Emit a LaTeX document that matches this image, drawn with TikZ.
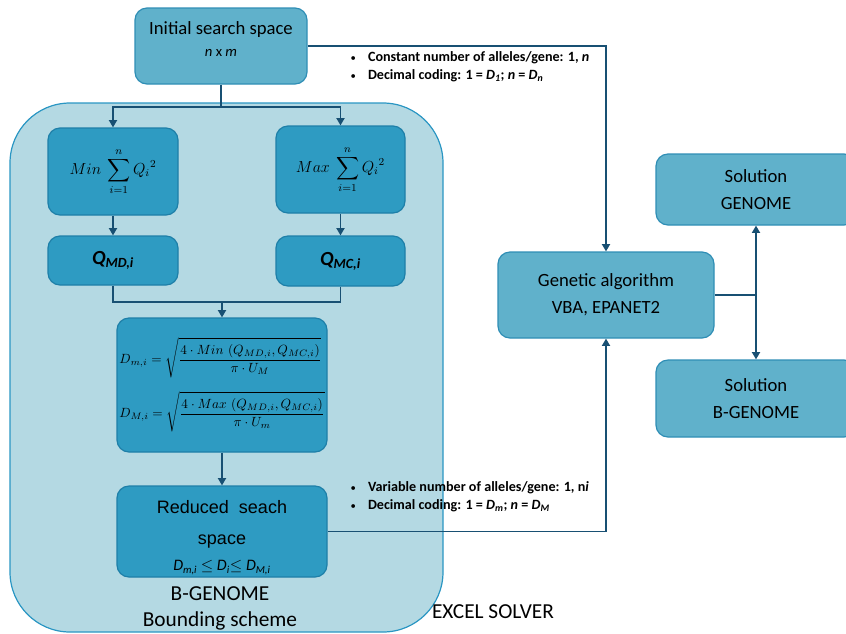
\documentclass[tikz,border=0pt]{standalone}
\usepackage{amsmath}
\usepackage{fontspec}
\setmainfont{Carlito}
\newfontfamily\arialfont{Liberation Sans}
\definecolor{gashell}{RGB}{180,217,227}
\definecolor{gashellline}{RGB}{42,150,195}
\definecolor{gadark}{RGB}{46,155,194}
\definecolor{gadarkline}{RGB}{30,127,168}
\definecolor{galight}{RGB}{96,177,203}
\definecolor{galightline}{RGB}{47,142,181}
\definecolor{gawire}{RGB}{24,80,115}
\usetikzlibrary{arrows.meta,positioning,calc}
\tikzset{
  lbox/.style={draw=galightline, line width=0.9pt, fill=galight, rounded corners=9pt,
               inner sep=0pt, align=center, font=\fontsize{14}{20}\selectfont},
  dbox/.style={draw=gadarkline, line width=0.9pt, fill=gadark, rounded corners=9pt,
               inner sep=0pt, align=center},
  wire/.style={draw=gawire, line width=1.3pt},
  warrow/.style={wire, -{Triangle[length=5.5pt,width=6pt]}},
  bnote/.style={font=\fontsize{10.6}{13.5}\selectfont\bfseries, align=left, anchor=west},
}
\newcommand\notebullet{{\normalfont\fontsize{8}{8}\selectfont\textbullet}\hspace{9pt}}

\begin{document}
\begin{tikzpicture}[x=0.75pt, y=-0.75pt]
\clip (0,0) rectangle (846,633);
% Container: B-GENOME bounding scheme
\node[draw=gashellline, line width=0.9pt, fill=gashell, rounded corners=45pt,
      minimum width=324.75pt, minimum height=396.75pt, inner sep=0pt] (shell) at (226.5,367.5) {};
\node[font=\fontsize{16}{19.5}\selectfont, align=center] (shelltxt) at (220,608) {B-GENOME\\Bounding scheme};
\node[font=\fontsize{16}{19}\selectfont] (excel) at (493,612) {EXCEL SOLVER};

% Top: initial search space
\node[lbox, minimum width=129pt, minimum height=57pt] (init) at (221,46) {};
\node[align=center, font=\fontsize{14}{17}\selectfont] (inittxt) at (221,39)
  {Initial search space\\{\fontsize{11}{13}\selectfont\itshape n\/\upshape\ x \itshape m}};

% Bounds of the flows
\node[dbox, minimum width=97.5pt, minimum height=65.25pt, font=\fontsize{11.5}{13}\selectfont] (minq) at (113,171.5)
  {$\displaystyle Min\ \sum_{i=1}^{n} {Q_i}^{2}$};
\node[dbox, minimum width=96.75pt, minimum height=65.25pt, font=\fontsize{11.5}{13}\selectfont] (maxq) at (340.5,169.5)
  {$\displaystyle Max\ \sum_{i=1}^{n} {Q_i}^{2}$};
\node[dbox, minimum width=97.5pt, minimum height=36.75pt, font=\fontsize{15}{18}\selectfont\bfseries\itshape] (qmd) at (113,260.5)
  {Q\textsubscript{MD,i}};
\node[dbox, minimum width=96.75pt, minimum height=37.5pt, font=\fontsize{15}{18}\selectfont\bfseries\itshape] (qmc) at (340.5,261)
  {Q\textsubscript{MC,i}};

% Diameters and reduced space
\node[dbox, minimum width=157.5pt, minimum height=100.5pt, align=left, font=\fontsize{9.7}{12}\selectfont] (diam) at (222,385)
  {$\displaystyle D_{m,i}=\sqrt{\frac{4\cdot Min\,\left(Q_{MD,i},Q_{MC,i}\right)}{\pi\cdot U_M}}$\\[9pt]
   $\displaystyle D_{M,i}=\sqrt{\frac{4\cdot Max\,\left(Q_{MD,i},Q_{MC,i}\right)}{\pi\cdot U_m}}$};
\node[dbox, minimum width=157.5pt, minimum height=68.25pt, font=\arialfont\fontsize{13.5}{23}\selectfont] (reduced) at (222,531.5)
  {\rule{0pt}{19pt}Reduced~ seach\\space\\[-3pt]
   {\rmfamily\itshape\fontsize{12}{14}\selectfont D\textsubscript{m,i} $\le$ D\textsubscript{i}$\le$ D\textsubscript{M,i}}};

% Right: genetic algorithm and solutions
\node[lbox, minimum width=162pt, minimum height=64.5pt] (ga) at (606,295) {Genetic algorithm\\VBA, EPANET2};
\node[lbox, minimum width=150pt, minimum height=53.25pt] (solg) at (756,189.5) {Solution\\GENOME};
\node[lbox, minimum width=150pt, minimum height=57.75pt] (solb) at (756,398.5) {Solution\\B-GENOME};

% Coding notes
\node[bnote] (constnote) at (346,67)
  {\notebullet Constant number of alleles/gene: 1, \textit{n}\\
   \notebullet Decimal coding: 1 = \textit{D\textsubscript{1}}; \textit{n} = \textit{D\textsubscript{n}}};
\node[bnote] (varnote) at (346,497)
  {\notebullet Variable number of alleles/gene: 1, n\textit{i}\\
   \notebullet Decimal coding: 1 = \textit{D\textsubscript{m}}; \textit{n} = \textit{D\textsubscript{M}}};

% Connectors
\coordinate (split) at (221,107);
\coordinate (merge) at (222,302);
\coordinate (fork) at (solg.south |- ga.east);
\draw[wire] (init.south) -- (split);
\draw[warrow] (split) -| (minq.north);
\draw[warrow] (split) -| (maxq.north);
\draw[warrow] (minq) -- (qmd);
\draw[warrow] (maxq) -- (qmc);
\draw[wire] (qmd.south) |- (merge);
\draw[wire] (qmc.south) |- (merge);
\draw[warrow] (merge) -- (diam.north);
\draw[warrow] (diam) -- (reduced);
\draw[warrow] (reduced.east) -| (ga.south);
\draw[warrow] (init.east) -| (ga.north);
\draw[wire] (ga.east) -- (fork);
\draw[warrow] (fork) -- (solg.south);
\draw[warrow] (fork) -- (solb.north);
\end{tikzpicture}
\end{document}
